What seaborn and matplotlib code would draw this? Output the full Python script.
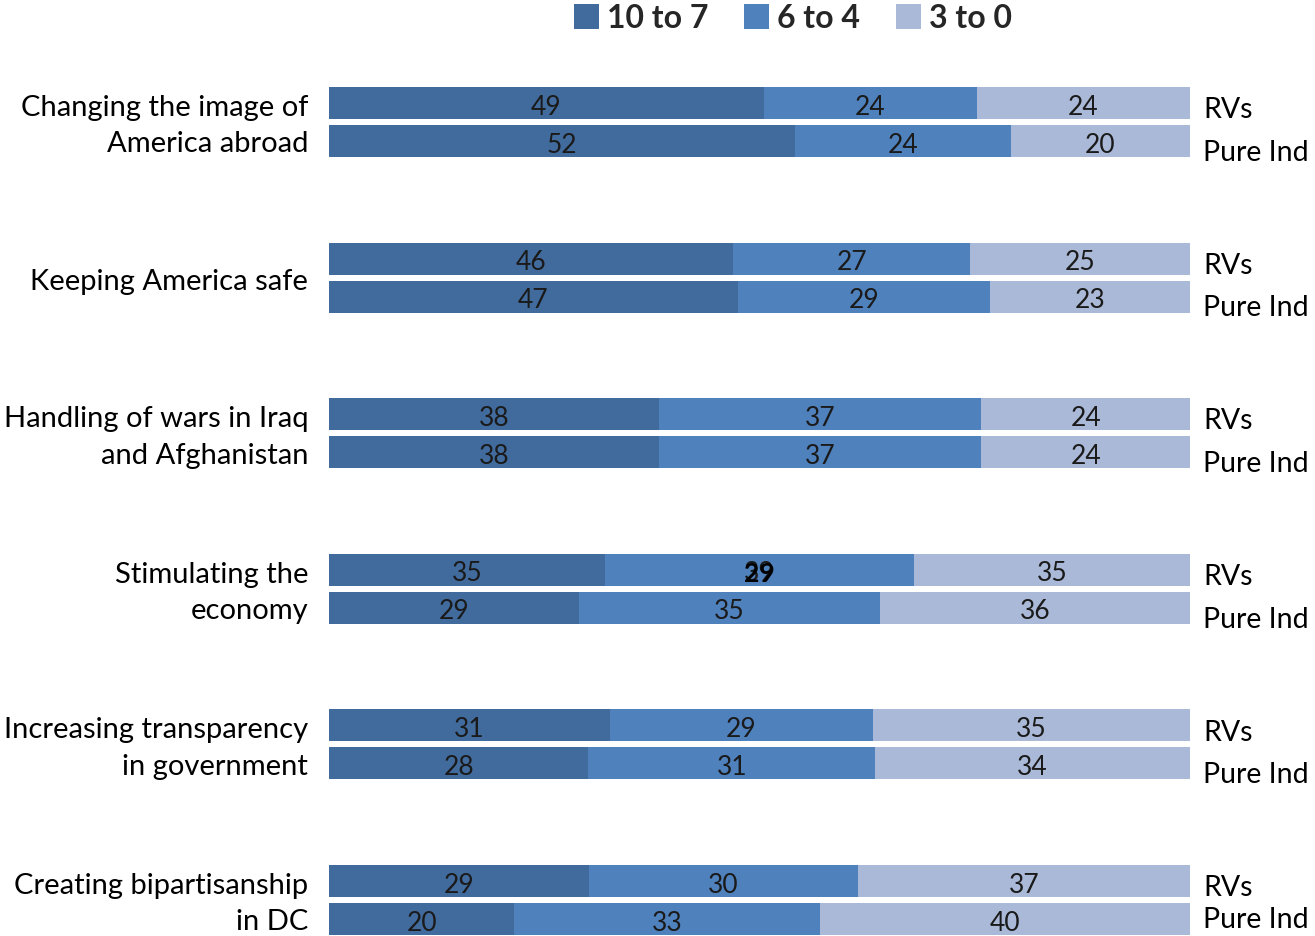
import pandas as pd
import numpy as np
import matplotlib
matplotlib.use("Agg")
import matplotlib.pyplot as plt
import seaborn as sns
from matplotlib.patches import Patch

sns.set_theme(style="white")
plt.rcParams['font.family'] = ['Lato', 'DejaVu Sans']

topics = ['Changing the image of\nAmerica abroad',
          'Keeping America safe',
          'Handling of wars in Iraq\nand Afghanistan',
          'Stimulating the\neconomy',
          'Increasing transparency\nin government',
          'Creating bipartisanship\nin DC']
groups = ['RVs', 'Pure Ind']
levels = ['10 to 7', '6 to 4', '3 to 0']
colors = ['#416B9D', '#4F81BD', '#AAB9D7']

rv_high = [49, 46, 38, 35, 31, 29]
rv_mid = [24, 27, 37, 39, 29, 30]
rv_low = [24, 25, 24, 35, 35, 37]
pi_high = [52, 47, 38, 29, 28, 20]
pi_mid = [24, 29, 37, 35, 31, 33]
pi_low = [20, 23, 24, 36, 34, 40]

rows = []
for i, t in enumerate(topics):
    rows.append(dict(topic=t, group='RVs', high=rv_high[i], mid=rv_mid[i], low=rv_low[i]))
    rows.append(dict(topic=t, group='Pure Ind', high=pi_high[i], mid=pi_mid[i], low=pi_low[i]))
df = pd.DataFrame(rows)
tot = df['high'] + df['mid'] + df['low']
df['p_high'] = df['high'] / tot * 100
df['p_mid'] = df['mid'] / tot * 100
df['p_low'] = df['low'] / tot * 100
df['c1'] = df['p_high']
df['c2'] = df['p_high'] + df['p_mid']
df['c3'] = df['c2'] + df['p_low']

fig = plt.figure(figsize=(13.15, 9.37), dpi=100)
ax = fig.add_axes([329 / 1315, 0, 861 / 1315, 1 - 80 / 937])

W, GAP = 0.488, 0.158
for col, c in zip(['c3', 'c2', 'c1'], colors[::-1]):
    sns.barplot(data=df, y='topic', x=col, hue='group', hue_order=groups, orient='h',
                palette={g: c for g in groups}, saturation=1, width=W, gap=GAP,
                linewidth=0, errorbar=None, legend=False, ax=ax)

ax.set_xlim(0, 100)
ax.set_ylim(5 + 36 / 155.6, -43 / 155.6)
ax.axis('off')

off = {'RVs': -W / 4, 'Pure Ind': W / 4}
side_off = {'RVs': 0.04, 'Pure Ind': 0.07}
lab_kw = dict(ha='center', va='center', fontsize=19, color='#1a1a1a')
for _, r in df.iterrows():
    i = topics.index(r['topic'])
    y = i + off[r['group']] + 0.02
    ax.text(r['p_high'] / 2, y, str(r['high']), **lab_kw)
    ax.text(r['c1'] + r['p_mid'] / 2, y, str(r['mid']), **lab_kw)
    ax.text(r['c2'] + r['p_low'] / 2, y, str(r['low']), **lab_kw)
    so = 0.0 if (i == len(topics) - 1 and r['group'] == 'Pure Ind') else side_off[r['group']]
    ax.text(101.5, i + off[r['group']] + so, r['group'], ha='left', va='center',
            fontsize=20.5, color='black', clip_on=False)

# overlapping label quirk in the original
ax.text(df.loc[6, 'c1'] + df.loc[6, 'p_mid'] / 2, 3 - W / 4 + 0.02, '29',
        ha='center', va='center', fontsize=19, fontweight='bold', color='black')

for i, t in enumerate(topics):
    ax.text(-2.4, i + 0.02, t, ha='right', va='center', fontsize=21, color='black',
            linespacing=1.5, clip_on=False)

handles = [Patch(facecolor=c, edgecolor='none') for c in colors]
fig.legend(handles, levels, loc='center', bbox_to_anchor=(0.603, 1 - 19 / 937), ncol=3,
           frameon=False, handlelength=0.8, handleheight=0.8,
           handletextpad=0.25, columnspacing=1.1, prop={'weight': 'bold', 'size': 23})

fig.savefig('out.png', dpi=100)
